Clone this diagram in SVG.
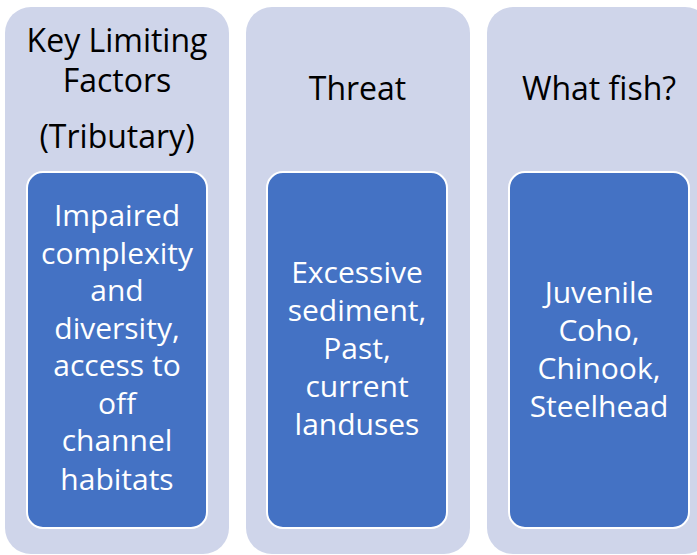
<svg xmlns="http://www.w3.org/2000/svg" width="697" height="555" viewBox="0 0 697 555">
<style>
.bg{fill:#CFD5EA;}
.box{fill:#4472C4;stroke:#FFFFFF;stroke-width:2;}
.h{font-family:"Open Sans","Liberation Sans",sans-serif;font-size:32px;fill:#000000;text-anchor:middle;}
.t{font-family:"Open Sans","Liberation Sans",sans-serif;font-size:30px;fill:#FFFFFF;text-anchor:middle;}
</style>
<rect width="697" height="555" fill="#FFFFFF"/>
<g id="col1">
<rect class="bg" x="5" y="7" width="224" height="547" rx="26"/>
<text class="h" x="117" y="52">Key Limiting</text>
<text class="h" x="117" y="92">Factors</text>
<text class="h" x="117" y="148">(Tributary)</text>
<rect class="box" x="27" y="172" width="180" height="356" rx="16"/>
<text class="t" x="117"><tspan x="117" y="226">Impaired</tspan><tspan x="117" y="263.5">complexity</tspan><tspan x="117" y="301">and</tspan><tspan x="117" y="338.5">diversity,</tspan><tspan x="117" y="376">access to</tspan><tspan x="117" y="413.5">off</tspan><tspan x="117" y="451">channel</tspan><tspan x="117" y="489.5">habitats</tspan></text>
</g>
<g id="col2">
<rect class="bg" x="246" y="7" width="224" height="547" rx="26"/>
<text class="h" x="357.5" y="100">Threat</text>
<rect class="box" x="267" y="172" width="180" height="356" rx="16"/>
<text class="t"><tspan x="357" y="283">Excessive</tspan><tspan x="357" y="321">sediment,</tspan><tspan x="357" y="359">Past,</tspan><tspan x="357" y="397">current</tspan><tspan x="357" y="435">landuses</tspan></text>
</g>
<g id="col3">
<rect class="bg" x="487" y="7" width="224" height="547" rx="26"/>
<text class="h" x="599" y="100">What fish?</text>
<rect class="box" x="509" y="172" width="180" height="356" rx="16"/>
<text class="t"><tspan x="599" y="303">Juvenile</tspan><tspan x="599" y="341">Coho,</tspan><tspan x="599" y="379">Chinook,</tspan><tspan x="599" y="417">Steelhead</tspan></text>
</g>
<g id="connectors"/>
</svg>
